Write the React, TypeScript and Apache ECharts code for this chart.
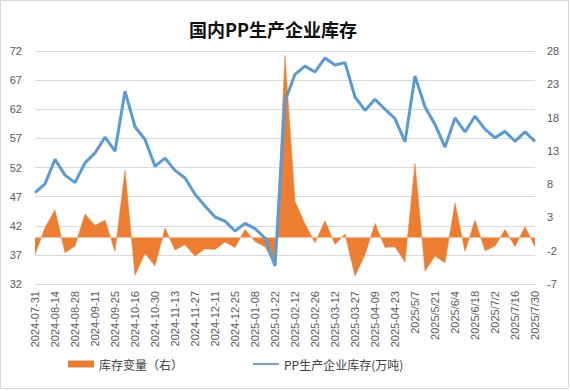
import React, { useEffect, useRef } from "react";
import * as echarts from "echarts";

const categories: string[] = [
  "2024-07-31", "2024-08-07", "2024-08-14", "2024-08-21", "2024-08-28",
  "2024-09-04", "2024-09-11", "2024-09-18", "2024-09-25", "2024-10-09",
  "2024-10-16", "2024-10-23", "2024-10-30", "2024-11-06", "2024-11-13",
  "2024-11-20", "2024-11-27", "2024-12-04", "2024-12-11", "2024-12-18",
  "2024-12-25", "2025-01-02", "2025-01-08", "2025-01-15", "2025-01-22",
  "2025-02-05", "2025-02-12", "2025-02-19", "2025-02-26", "2025-03-05",
  "2025-03-12", "2025-03-19", "2025-03-27", "2025-04-02", "2025-04-09",
  "2025-04-16", "2025-04-23", "2025-04-30", "2025/5/7", "2025/5/14",
  "2025/5/21", "2025/5/28", "2025/6/4", "2025/6/11", "2025/6/18",
  "2025/6/25", "2025/7/2", "2025/7/9", "2025/7/16", "2025/7/23",
  "2025/7/30",
];

// PP生产企业库存(万吨) — left axis
const inventory: number[] = [
  47.7, 49.2, 53.4, 50.7, 49.4, 52.8, 54.5, 57.2, 54.8, 65.1,
  59.0, 56.8, 52.2, 53.6, 51.5, 50.2, 47.4, 45.4, 43.5, 42.8,
  41.1, 42.4, 41.5, 39.9, 35.1, 63.4, 68.0, 69.4, 68.4, 70.8,
  69.6, 70.0, 64.1, 61.8, 63.7, 62.0, 60.4, 56.4, 67.7, 62.4,
  59.4, 55.5, 60.5, 58.1, 60.8, 58.6, 57.1, 58.2, 56.5, 58.1,
  56.5,
];

// 库存变量（右） — right axis
const change: number[] = [
  -2.6, 1.5, 4.1, -2.3, -1.3, 3.5, 1.8, 2.6, -2.1, 10.1,
  -5.7, -2.4, -4.3, 1.4, -1.9, -1.1, -2.8, -1.7, -1.8, -0.7,
  -1.5, 1.2, -0.6, -1.4, -4.2, 27.3, 5.4, 2.0, -0.8, 2.5,
  -1.05, 0.5, -5.8, -2.6, 2.1, -1.5, -1.4, -3.7, 11.1, -5.05,
  -2.8, -3.8, 5.2, -2.1, 2.6, -2.0, -1.3, 1.2, -1.4, 1.6,
  -1.4,
];

const leftMin = 32;
const leftMax = 72;
const rightMin = -7;
const rightMax = 28;
const step = 5;

const title = "国内PP生产企业库存";
const nameChange = "库存变量（右）";
const nameInventory = "PP生产企业库存(万吨)";

export default function App() {
  const ref = useRef<HTMLDivElement>(null);
  useEffect(() => {
    if (!ref.current) return;
    const chart = echarts.init(ref.current, null, { renderer: "svg" });
    const labelFont = "'Liberation Sans', Arial, sans-serif";
    const cjkFont = "'Noto Sans CJK SC', sans-serif";
    chart.setOption({
      animation: false,
      backgroundColor: "#ffffff",
      title: {
        text: title,
        left: 184,
        top: 15,
        textStyle: {
          fontFamily: cjkFont,
          fontSize: 18,
          fontWeight: "bold",
          color: "#111111",
        },
      },
      graphic: [
        {
          type: "rect",
          shape: { x: 0.5, y: 0.5, width: 568, height: 388 },
          style: { fill: "none", stroke: "#d9d9d9", lineWidth: 1 },
          silent: true,
        },
      ],
      legend: {
        left: 68,
        top: 358,
        padding: 0,
        itemGap: 70,
        itemWidth: 26,
        itemHeight: 7,
        textStyle: { fontFamily: cjkFont, fontSize: 12, color: "#404040" },
        data: [
          { name: nameChange, icon: "rect" },
          {
            name: nameInventory,
            icon: "path://M0,0L0,0M0,2.6H26V4.4H0ZM26,7L26,7",
          },
        ],
      },
      grid: { left: 35, right: 35, top: 51, height: 233 },
      xAxis: {
        type: "category",
        data: categories,
        boundaryGap: false,
        axisLine: { lineStyle: { color: "#d9d9d9", width: 1 } },
        axisTick: { show: false },
        axisLabel: {
          interval: 1,
          rotate: 90,
          margin: 7,
          fontSize: 11,
          fontFamily: labelFont,
          color: "#595959",
        },
      },
      yAxis: [
        {
          type: "value",
          min: 0,
          max: leftMax - leftMin,
          interval: step,
          axisLine: { show: false },
          axisTick: { show: false },
          splitLine: { lineStyle: { color: "#d9d9d9", width: 1 } },
          axisLabel: {
            margin: 13,
            fontSize: 11,
            fontFamily: labelFont,
            color: "#595959",
            formatter: (v: number) => String(Math.round(v + leftMin)),
          },
        },
        {
          type: "value",
          min: 0,
          max: rightMax - rightMin,
          interval: step,
          axisLine: { show: false },
          axisTick: { show: false },
          splitLine: { show: false },
          axisLabel: {
            margin: 12,
            fontSize: 11,
            fontFamily: labelFont,
            color: "#595959",
            formatter: (v: number) => String(Math.round(v + rightMin)),
          },
        },
      ],
      series: [
        {
          name: nameChange,
          type: "line",
          yAxisIndex: 1,
          data: change.map((v) => v - rightMin),
          symbol: "none",
          lineStyle: { color: "#ED7D31", width: 0.5 },
          itemStyle: { color: "#ED7D31" },
          areaStyle: { color: "#ED7D31", opacity: 1, origin: -rightMin },
          z: 2,
        },
        {
          name: nameInventory,
          type: "line",
          yAxisIndex: 0,
          data: inventory.map((v) => v - leftMin),
          symbol: "none",
          lineStyle: { color: "#5B9BD5", width: 3 },
          itemStyle: { color: "#5B9BD5" },
          z: 3,
        },
      ],
    });
    return () => chart.dispose();
  }, []);
  return (
    <div
      ref={ref}
      style={{ position: "absolute", left: 0, top: 0, width: 570, height: 391 }}
    />
  );
}
